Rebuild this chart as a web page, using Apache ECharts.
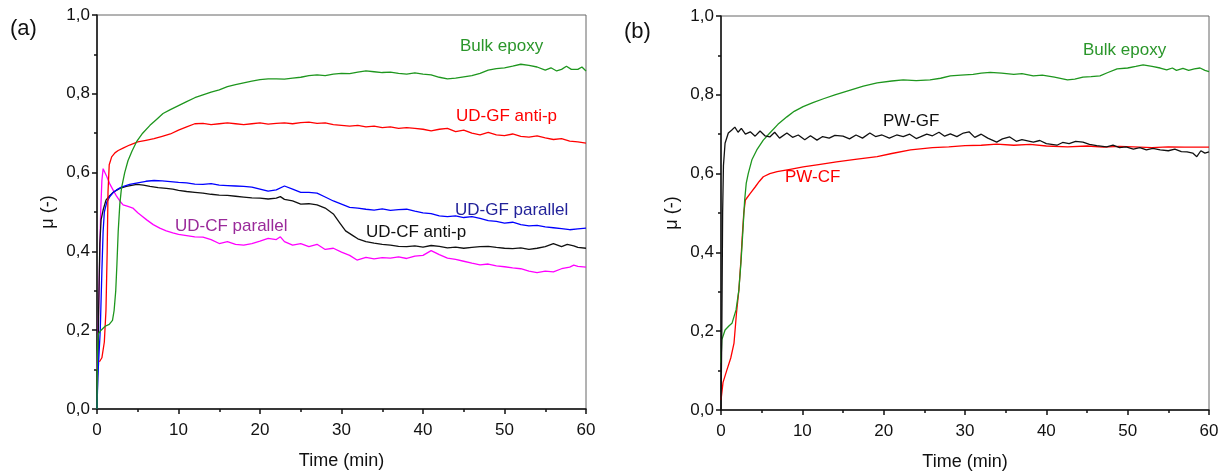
<!DOCTYPE html>
<html>
<head>
<meta charset="utf-8">
<script src="https://cdn.jsdelivr.net/npm/echarts@6/dist/echarts.min.js"></script>
<style>
  html, body { margin: 0; padding: 0; background: #fff; }
  #frictionChart { width: 1225px; height: 472px; }
</style>
</head>
<body>
<div id="frictionChart"></div>
<script>
// panel (a): [time (min), mu]
const bulkA = [[0,0],[0.05,0.15],[0.15,0.19],[0.5,0.2],[1.0,0.21],[1.5,0.215],[1.9,0.225],[2.1,0.25],[2.3,0.3],[2.45,0.37],[2.6,0.45],[2.8,0.52],[3.0,0.56],[3.4,0.6],[3.8,0.63],[4.3,0.655],[4.9,0.68],[5.6,0.7],[6.5,0.72],[7.3,0.735],[8.1,0.75],[9,0.76],[10,0.77],[11,0.78],[12,0.79],[13,0.797],[14,0.804],[15,0.81],[16,0.818],[17,0.823],[18,0.828],[19,0.832],[20,0.836],[21,0.838],[22,0.838],[23,0.837],[24,0.84],[25,0.842],[26,0.846],[27,0.848],[28,0.846],[29,0.85],[30,0.852],[31,0.851],[32,0.855],[33,0.858],[34,0.856],[35,0.854],[36,0.855],[37,0.852],[38,0.85],[39,0.853],[40,0.85],[41,0.848],[42,0.842],[43,0.838],[44,0.84],[45,0.843],[46,0.846],[47,0.852],[48,0.86],[49,0.864],[50,0.866],[51,0.87],[52,0.875],[53,0.872],[54,0.868],[55,0.86],[55.7,0.866],[56.4,0.858],[57,0.862],[57.6,0.87],[58.2,0.862],[59,0.862],[59.5,0.868],[60,0.858]];
const udgfAntiA = [[0.3,0.12],[0.6,0.13],[0.9,0.17],[1.1,0.25],[1.25,0.4],[1.35,0.55],[1.5,0.62],[1.8,0.64],[2.2,0.65],[2.6,0.656],[3.2,0.662],[4,0.67],[5,0.678],[6,0.682],[7,0.686],[8,0.692],[9,0.698],[10,0.708],[11,0.716],[12,0.724],[13,0.725],[14,0.722],[15,0.724],[16,0.726],[17,0.724],[18,0.722],[19,0.724],[20,0.726],[21,0.723],[22,0.725],[23,0.726],[24,0.724],[25,0.727],[26,0.728],[27,0.725],[28,0.726],[29,0.722],[30,0.72],[31,0.718],[32,0.72],[33,0.716],[34,0.718],[35,0.714],[36,0.716],[37,0.712],[38,0.714],[39,0.712],[40,0.71],[41,0.706],[42,0.71],[43,0.712],[44,0.704],[45,0.708],[46,0.7],[47,0.696],[48,0.702],[49,0.696],[50,0.694],[51,0.698],[52,0.692],[53,0.69],[54,0.693],[55,0.688],[56,0.684],[57,0.686],[58,0.68],[59,0.678],[60,0.675]];
const udgfParA = [[0,0],[0.1,0.08],[0.2,0.12],[0.4,0.2],[0.6,0.35],[0.75,0.45],[0.9,0.5],[1.2,0.525],[1.6,0.54],[2.0,0.55],[2.4,0.556],[3,0.563],[4,0.57],[5,0.574],[6,0.578],[7,0.58],[8,0.579],[9,0.577],[10,0.575],[11,0.574],[12,0.571],[13,0.57],[14,0.572],[15,0.568],[16,0.567],[17,0.566],[18,0.565],[19,0.563],[20,0.558],[21,0.553],[22,0.556],[23,0.566],[24,0.558],[25,0.55],[26,0.55],[27,0.548],[28,0.538],[29,0.528],[30,0.52],[31,0.512],[32,0.51],[33,0.507],[34,0.505],[35,0.508],[36,0.504],[37,0.506],[38,0.507],[39,0.502],[40,0.498],[41,0.496],[42,0.49],[43,0.488],[44,0.49],[45,0.486],[46,0.488],[47,0.484],[48,0.478],[49,0.476],[50,0.472],[51,0.474],[52,0.468],[53,0.465],[54,0.466],[55,0.462],[56,0.46],[57,0.458],[58,0.455],[59,0.457],[60,0.459]];
const udcfAntiA = [[0,0],[0.1,0.1],[0.2,0.25],[0.35,0.42],[0.5,0.48],[0.75,0.505],[1.1,0.53],[1.5,0.54],[2,0.55],[2.8,0.56],[3.6,0.565],[4.9,0.57],[5.7,0.568],[6.5,0.565],[7.5,0.562],[8.5,0.56],[9.3,0.558],[10,0.555],[11,0.552],[12,0.55],[13,0.548],[14,0.545],[15,0.543],[16,0.542],[17,0.54],[18,0.538],[19,0.536],[20,0.535],[21,0.533],[22,0.535],[22.5,0.539],[23,0.532],[24,0.528],[25,0.52],[26,0.521],[27,0.518],[28,0.51],[29,0.495],[29.8,0.472],[30.5,0.452],[31.4,0.44],[32,0.432],[33,0.425],[34,0.421],[35,0.418],[36,0.416],[37,0.413],[38,0.412],[39,0.414],[40,0.411],[41,0.415],[42,0.413],[43,0.409],[44,0.411],[45,0.408],[46,0.41],[47,0.412],[48,0.413],[49,0.41],[50,0.408],[51,0.407],[52,0.409],[53,0.405],[54,0.408],[55,0.412],[56,0.42],[56.5,0.416],[57,0.412],[57.7,0.418],[58.5,0.414],[59,0.41],[60,0.408]];
const udcfParA = [[0,0.1],[0.15,0.2],[0.3,0.35],[0.45,0.5],[0.6,0.58],[0.75,0.61],[0.9,0.605],[1.2,0.59],[1.6,0.57],[2,0.555],[2.4,0.54],[2.8,0.528],[3.2,0.518],[3.8,0.514],[4.4,0.51],[5,0.498],[5.5,0.49],[6.1,0.48],[6.9,0.468],[7.7,0.459],[8.5,0.452],[9.3,0.447],[10,0.443],[11,0.44],[12,0.437],[13,0.436],[14,0.43],[15,0.42],[16,0.425],[17,0.418],[18,0.416],[19,0.42],[20,0.426],[21,0.433],[22,0.43],[22.5,0.437],[23,0.425],[24,0.416],[25,0.42],[26,0.412],[27,0.418],[28,0.405],[29,0.408],[30,0.398],[31,0.39],[31.9,0.378],[33,0.385],[34,0.381],[35,0.384],[36,0.383],[37,0.386],[38,0.382],[39,0.388],[40,0.39],[41,0.402],[42,0.392],[43,0.383],[44,0.38],[45,0.375],[46,0.37],[47,0.366],[48,0.368],[49,0.363],[50,0.361],[51,0.358],[52,0.356],[53,0.35],[54,0.346],[55,0.35],[56,0.348],[57,0.356],[58,0.36],[58.5,0.365],[59,0.362],[60,0.36]];

// panel (b)
const bulkB = [[0,0.12],[0.1,0.178],[0.5,0.203],[1.0,0.214],[1.35,0.22],[1.85,0.254],[2.2,0.305],[2.45,0.373],[2.7,0.457],[2.9,0.53],[3.1,0.575],[3.35,0.6],[3.8,0.635],[4.4,0.66],[5.2,0.685],[6,0.703],[7,0.725],[8.1,0.744],[9,0.758],[10.1,0.77],[11.3,0.78],[12.6,0.79],[14,0.8],[15.9,0.812],[17.5,0.822],[19.2,0.83],[21,0.835],[22.4,0.838],[24,0.836],[25.7,0.838],[27,0.842],[28.2,0.848],[29.5,0.85],[31,0.852],[32,0.855],[33.1,0.857],[34.5,0.855],[36,0.852],[37,0.854],[38.4,0.848],[39.5,0.85],[41,0.845],[42.6,0.838],[43.5,0.84],[44.5,0.845],[45.5,0.846],[46.6,0.848],[47.5,0.856],[48.7,0.866],[50,0.868],[51,0.872],[51.9,0.876],[53,0.872],[54,0.868],[54.8,0.863],[55.5,0.868],[56,0.862],[56.8,0.867],[57.5,0.862],[58.2,0.866],[58.9,0.868],[59.5,0.862],[60,0.859]];
const pwgfB = [[0,0],[0.1,0.2],[0.2,0.5],[0.3,0.62],[0.5,0.677],[0.9,0.703],[1.3,0.71],[1.7,0.718],[2.1,0.705],[2.5,0.715],[3,0.7],[3.6,0.706],[4.2,0.695],[4.8,0.708],[5.4,0.696],[6,0.693],[6.6,0.705],[7.2,0.69],[8.1,0.703],[8.8,0.692],[9.5,0.698],[10.3,0.686],[11,0.696],[11.8,0.685],[12.5,0.694],[13.3,0.69],[14,0.697],[15,0.695],[15.8,0.688],[16.6,0.698],[17.4,0.69],[18.3,0.703],[19,0.694],[19.8,0.698],[20.7,0.69],[21.6,0.698],[22.4,0.694],[23.2,0.7],[24,0.689],[24.5,0.693],[25.3,0.7],[26,0.696],[26.8,0.705],[27.5,0.695],[28.2,0.701],[29,0.694],[29.8,0.703],[30.5,0.706],[31.2,0.692],[32,0.7],[32.8,0.69],[33.9,0.68],[34.6,0.688],[35.5,0.693],[36.3,0.682],[37,0.686],[38.4,0.68],[39.2,0.684],[40,0.676],[41.3,0.672],[42,0.679],[42.8,0.676],[43.6,0.682],[44.5,0.68],[45.3,0.674],[46.2,0.671],[47.4,0.668],[48.2,0.672],[49,0.666],[49.8,0.668],[50.7,0.662],[51.5,0.666],[52.3,0.66],[53.1,0.664],[54,0.66],[55,0.658],[55.8,0.662],[56.6,0.656],[57.3,0.655],[58,0.652],[58.5,0.643],[59,0.658],[59.5,0.652],[60,0.655]];
const pwcfB = [[0,0.025],[0.25,0.07],[0.7,0.1],[1.2,0.132],[1.6,0.17],[1.9,0.245],[2.2,0.305],[2.45,0.38],[2.6,0.436],[2.8,0.5],[3,0.533],[3.6,0.55],[4.2,0.566],[4.7,0.58],[5.2,0.592],[6,0.6],[6.9,0.605],[8.5,0.611],[10.1,0.617],[12,0.623],[14.2,0.63],[16.5,0.636],[19.2,0.643],[21,0.651],[23.3,0.66],[26,0.666],[28,0.668],[30,0.671],[32,0.672],[33.9,0.675],[36,0.672],[38,0.674],[40,0.67],[42.6,0.668],[45,0.67],[47,0.667],[49,0.669],[50.7,0.668],[53,0.666],[55,0.668],[57,0.667],[60,0.667]];

const FONT = 'Liberation Sans, Arial, sans-serif';

function makeX(idx) {
  return {
    type: 'value', gridIndex: idx, min: 0, max: 60, interval: 10,
    name: 'Time (min)', nameLocation: 'middle', nameGap: 43,
    nameTextStyle: { fontSize: 18, color: '#111', fontFamily: FONT },
    axisLine: { onZero: false, lineStyle: { color: '#111', width: 1.5 } },
    axisTick: { length: 5, lineStyle: { color: '#111', width: 1.5 } },
    minorTick: { show: true, splitNumber: 2, length: 3, lineStyle: { color: '#111', width: 1.5 } },
    splitLine: { show: false },
    axisLabel: { fontSize: 17, color: '#111', fontFamily: FONT, margin: 13 }
  };
}

function makeY(idx) {
  return {
    type: 'value', gridIndex: idx, min: 0, max: 1, interval: 0.2,
    name: 'μ (-)', nameLocation: 'middle', nameGap: 40, nameRotate: 90,
    nameTextStyle: { fontSize: 18, color: '#111', fontFamily: FONT },
    axisLine: { onZero: false, lineStyle: { color: '#111', width: 1.5 } },
    axisTick: { length: 5, lineStyle: { color: '#111', width: 1.5 } },
    minorTick: { show: true, splitNumber: 2, length: 3, lineStyle: { color: '#111', width: 1.5 } },
    splitLine: { show: false },
    axisLabel: {
      fontSize: 17, color: '#111', fontFamily: FONT, margin: 7,
      formatter: function(v) { return v.toFixed(1).replace('.', ','); }
    }
  };
}

function line(data, color, idx) {
  return {
    type: 'line', data: data, xAxisIndex: idx, yAxisIndex: idx,
    showSymbol: false, symbol: 'none',
    lineStyle: { color: color, width: 1.3 }
  };
}

function note(text, x, y, color) {
  return {
    type: 'text', left: x, top: y,
    style: { text: text, fill: color, fontSize: 17, fontFamily: FONT }
  };
}

document.addEventListener('DOMContentLoaded', function() {
  const chart = echarts.init(document.getElementById('frictionChart'));
  const option = {
    animation: false,
    backgroundColor: '#fff',
    grid: [
      { left: 97, top: 15, width: 489, height: 394, outerBoundsMode: 'none', show: true, borderColor: '#666', borderWidth: 1 },
      { left: 721, top: 16, width: 488, height: 394, outerBoundsMode: 'none', show: true, borderColor: '#666', borderWidth: 1 }
    ],
    xAxis: [makeX(0), makeX(1)],
    yAxis: [makeY(0), makeY(1)],
    series: [
      line(udcfParA, '#ff00ff', 0),
      line(udcfAntiA, '#111111', 0),
      line(udgfParA, '#0000ff', 0),
      line(udgfAntiA, '#ff0000', 0),
      line(bulkA, '#1e961e', 0),
      line(pwcfB, '#ff0000', 1),
      line(bulkB, '#1e961e', 1),
      line(pwgfB, '#111111', 1)
    ],
    graphic: [
      { type: 'text', left: 10, top: 18, style: { text: '(a)', fill: '#111', fontSize: 22, fontFamily: FONT } },
      { type: 'text', left: 624, top: 21, style: { text: '(b)', fill: '#111', fontSize: 22, fontFamily: FONT } },
      note('Bulk epoxy', 460, 38, '#2a962a'),
      note('UD-GF anti-p', 456, 108, '#ff0000'),
      note('UD-GF parallel', 455, 202, '#22229a'),
      note('UD-CF anti-p', 366, 224, '#111111'),
      note('UD-CF parallel', 175, 218, '#9a2a9a'),
      note('Bulk epoxy', 1083, 42, '#2a962a'),
      note('PW-GF', 883, 113, '#111111'),
      note('PW-CF', 785, 169, '#ff0000')
    ]
  };
  chart.setOption(option);
});
</script>
</body>
</html>
